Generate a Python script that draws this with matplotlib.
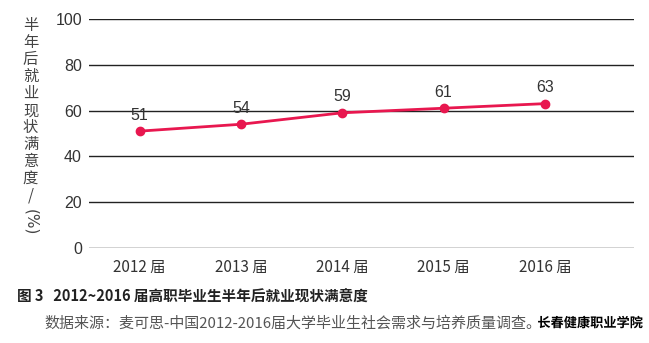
import matplotlib.pyplot as plt
import matplotlib.patheffects as pe

plt.rcParams['font.family'] = ['Noto Sans CJK SC', 'DejaVu Sans']

# 各届毕业生半年后就业现状满意度（%）
years = ['2012 届', '2013 届', '2014 届', '2015 届', '2016 届']
satisfaction = [51, 54, 59, 61, 63]
y_ticks = [0, 20, 40, 60, 80, 100]

fig = plt.figure(figsize=(6.49, 3.43), dpi=100)
ax = fig.add_axes([0.137, 0.277, 0.840, 0.668])

x = range(len(years))
ax.plot(x, satisfaction, color='#e8174f', linewidth=2.0,
        marker='o', markersize=6, zorder=3)
for xi, v in zip(x, satisfaction):
    ax.annotate(str(v), (xi, v), xytext=(0, 6), textcoords='offset points',
                ha='center', va='bottom', fontsize=11.5, color='#333333',
                family='Liberation Sans')

ax.set_xlim(-0.5, 4.88)
ax.set_ylim(0, 100)
ax.set_yticks(y_ticks)
ax.set_yticklabels([str(t) for t in y_ticks], fontsize=11.5, color='#333333',
                   family='Liberation Sans')
ax.set_xticks(list(x))
ax.set_xticklabels(years, fontsize=11, color='#333333')
ax.tick_params(axis='x', length=0, pad=8)
ax.tick_params(axis='y', length=0, pad=5)
ax.grid(axis='y', color='#222222', linewidth=1.0)
ax.set_axisbelow(True)
for s in ax.spines.values():
    s.set_visible(False)

# 竖排纵轴标题，单位部分旋转
fig.text(0.047, 0.95, '\n'.join('半年后就业现状满意度/'), ha='center', va='top',
         fontsize=11, color='#444444', linespacing=1.0)
fig.text(0.047, 0.39, '(%)', ha='center', va='top', rotation=-90,
         fontsize=11, color='#444444', family='DejaVu Sans')

fig.text(0.026, 0.135, '图 3   2012~2016 届高职毕业生半年后就业现状满意度',
         fontsize=10.5, fontweight='bold', color='#222222', va='center')
fig.text(0.069, 0.058, '数据来源：麦可思-中国2012-2016届大学毕业生社会需求与培养质量调查。',
         fontsize=10.8, color='#555555', va='center')
fig.text(0.828, 0.058, '长春健康职业学院', fontsize=9.5, fontweight='bold',
         color='black', va='center',
         path_effects=[pe.withStroke(linewidth=2.5, foreground='white')])

fig.savefig('out.png', dpi=100)
